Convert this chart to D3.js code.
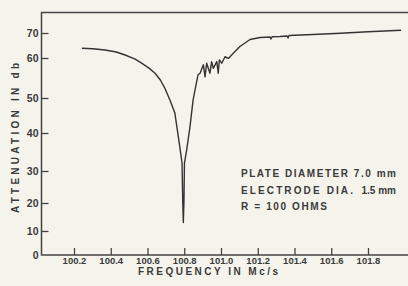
<!DOCTYPE html>
<html>
<head>
<meta charset="utf-8">
<script src="https://cdn.jsdelivr.net/npm/d3@7"></script>
<style>
  body { margin: 0; background: #f5f4ec; }
  svg { display: block; }
  text { font-family: "Liberation Sans", Arial, sans-serif; font-weight: bold; fill: #3a3a3a; }
</style>
</head>
<body>
<svg></svg>
<script>
// attenuation curve
var freq = [100.243, 100.303, 100.369, 100.43, 100.478, 100.53, 100.568, 100.61, 100.641, 100.67,
            100.695, 100.722, 100.749, 100.776, 100.788, 100.7916, 100.795, 100.7986, 100.801, 100.813,
            100.831, 100.848, 100.864, 100.875, 100.886, 100.904, 100.913, 100.922, 100.94, 100.949,
            100.958, 100.977, 100.985, 100.991, 101.004, 101.022, 101.04, 101.067, 101.103, 101.158,
            101.213, 101.267, 101.272, 101.278, 101.321, 101.36, 101.365, 101.37, 101.5, 101.65,
            101.8, 101.98];
var atten = [63.9, 63.7, 63.2, 62.4, 61.2, 59.8, 58.7, 57.4, 56.2, 54.5,
             52.4, 49.4, 45.7, 36.3, 32.1, 20.9, 13.0, 20.9, 32.1, 35.5,
             41.7, 49.4, 53.3, 55.8, 56.2, 58.3, 55.3, 58.7, 56.2, 59.1,
             57.4, 59.1, 56.2, 59.5, 58.7, 60.5, 59.9, 61.9, 64.6, 67.4,
             68.2, 68.4, 67.6, 68.5, 68.6, 68.8, 68.0, 69.0, 69.4, 69.9,
             70.5, 71.1];

var xTicks = [100.2, 100.4, 100.6, 100.8, 101.0, 101.2, 101.4, 101.6, 101.8];
var xTickLabels = ["100.2", "100.4", "100.6", "100.8", "101.0", "101.2", "101.4", "101.6", "101.8"];
var yTicks = [0, 10, 20, 30, 40, 50, 60, 70];
// the hand drawn y axis is not evenly spaced
var yTickPos = [255, 231, 203, 171, 133, 98, 58, 33];

var legendLines = ["PLATE DIAMETER 7.0 mm", "ELECTRODE DIA.", "1.5 mm", "R = 100 OHMS"];

var W = 408, H = 286;
var padL = 41.5, padT = 12.5, axisY = 255;

var svg = d3.select("svg")
    .attr("width", W)
    .attr("height", H);

var x = d3.scaleLinear().domain([100, 102]).range([37.25, 404.75]);
var y = d3.scaleLinear().domain(yTicks).range(yTickPos);

// frame: left, top and bottom only
svg.append("path")
    .attr("d", "M" + W + "," + padT + "H" + padL + "V" + axisY + "H" + W)
    .attr("fill", "none")
    .attr("stroke", "#444")
    .attr("stroke-width", 1.5);

var yAxis = svg.append("g")
    .attr("transform", "translate(" + padL + ",0)")
    .call(d3.axisLeft(y).tickValues(yTicks).tickSizeInner(-7).tickSizeOuter(0).tickPadding(3));
yAxis.select(".domain").remove();
yAxis.selectAll("line").attr("stroke", "#444").attr("stroke-width", 1.3);
yAxis.selectAll("text").attr("font-size", 10.5).attr("font-family", null).attr("fill", null);
yAxis.select(".tick line").remove(); // 0 sits on the axis

var xAxis = svg.append("g")
    .attr("transform", "translate(0," + axisY + ")")
    .call(d3.axisBottom(x).tickValues(xTicks)
        .tickFormat(function(d, i) { return xTickLabels[i]; })
        .tickSizeInner(-7).tickSizeOuter(0).tickPadding(2.5));
xAxis.select(".domain").remove();
xAxis.selectAll("line").attr("stroke", "#444").attr("stroke-width", 1.3);
xAxis.selectAll("text").attr("font-size", 9.5).attr("font-family", null).attr("fill", null);

// curve
var pts = d3.zip(freq, atten);
svg.append("path")
    .datum(pts)
    .attr("fill", "none")
    .attr("stroke", "#333")
    .attr("stroke-width", 1.4)
    .attr("stroke-linejoin", "round")
    .attr("d", d3.line().x(function(d) { return x(d[0]); }).y(function(d) { return y(d[1]); }));

// titles
svg.append("text")
    .attr("x", 208).attr("y", 274.5)
    .attr("text-anchor", "middle")
    .attr("font-size", 10)
    .attr("textLength", 140)
    .attr("lengthAdjust", "spacing")
    .text("FREQUENCY  IN  Mc/s");

svg.append("text")
    .attr("transform", "translate(19,138) rotate(-90)")
    .attr("text-anchor", "middle")
    .attr("font-size", 10)
    .attr("textLength", 150)
    .attr("lengthAdjust", "spacing")
    .text("ATTENUATION  IN  db");

// legend
svg.append("text").attr("x", 241).attr("y", 177).attr("font-size", 10)
    .attr("textLength", 155).attr("lengthAdjust", "spacing").text(legendLines[0]);
svg.append("text").attr("x", 241).attr("y", 194).attr("font-size", 10)
    .attr("textLength", 112).attr("lengthAdjust", "spacing").text(legendLines[1]);
svg.append("text").attr("x", 396).attr("y", 194).attr("font-size", 10)
    .attr("text-anchor", "end").text(legendLines[2]);
svg.append("text").attr("x", 241).attr("y", 210).attr("font-size", 10)
    .attr("textLength", 86).attr("lengthAdjust", "spacing").text(legendLines[3]);
</script>
</body>
</html>
